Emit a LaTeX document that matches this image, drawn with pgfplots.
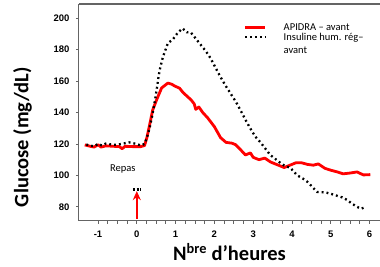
\documentclass[border=0pt]{standalone}
\usepackage{fontspec}
\usepackage{pgfplots}
\pgfplotsset{compat=1.18}
\usetikzlibrary{arrows.meta}
\setmainfont{Carlito}
\newfontfamily\tickfont{Liberation Sans}
\definecolor{axgray}{RGB}{100,100,100}
\definecolor{apired}{RGB}{255,0,0}
\begin{document}
\begin{tikzpicture}
\useasboundingbox (-79pt,-46pt) rectangle (301pt,221pt);
\begin{axis}[
  scale only axis,
  width=301pt, height=217pt,
  xmin=-1.49, xmax=6.27,
  ymin=71, ymax=209,
  axis x line*=bottom,
  axis y line*=left,
  axis line style={axgray, line width=1pt},
  every outer x axis line/.append style={-},
  every outer y axis line/.append style={-},
  xtick={-1,0,1,2,3,4,5,6},
  xticklabels={-1,0,1,2,3,4,5,6},
  minor x tick num=3,
  ytick={80,100,120,140,160,180,200},
  yticklabels={80,100,120,140,160,180,200},
  tick align=outside,
  major tick length=3pt,
  minor tick length=3pt,
  tick style={axgray, line width=0.8pt},
  ticklabel style={font=\tickfont\bfseries\fontsize{9.5}{11}\selectfont},
  xticklabel style={yshift=-3pt},
  yticklabel style={xshift=-3pt},
  xlabel={\bfseries N\textsuperscript{bre} d’heures},
  ylabel={\bfseries Glucose (mg/dL)},
  label style={font=\fontsize{20.5}{24}\selectfont},
  xlabel style={yshift=1pt},
  ylabel style={at={(axis description cs:-0.188,0.387)}, anchor=center, rotate=0},
  clip=false,
  legend style={draw=none, fill=none, at={(axis cs:2.68,198.5)}, anchor=north west,
    font=\fontsize{10.5}{13}\selectfont, row sep=-1pt, column sep=2pt,
    nodes={inner sep=1pt}},
  legend cell align=left,
  legend image code/.code={\draw[#1] (0pt,0pt) -- (20pt,0pt);},
  legend style={/tikz/every odd column/.append style={column sep=16pt}},
]
\addplot[apired, line width=2.8pt, line join=round] coordinates {
(-1.34,119.4) (-1.2,118.5) (-1.1,118) (-1.0,119.5) (-0.92,118) (-0.8,118.8)
(-0.6,118.5) (-0.45,118.3) (-0.38,117) (-0.3,118.5) (-0.1,118.3) (0.1,118.3)
(0.2,119) (0.26,124) (0.33,132) (0.41,141.6) (0.51,148) (0.64,155.6) (0.8,158.7)
(0.9,158) (0.98,156.8) (1.1,155.5) (1.2,152.5) (1.29,150.5) (1.4,148) (1.48,145.5)
(1.52,142) (1.6,143.5) (1.7,140) (1.83,136.5) (2.0,131) (2.16,124) (2.3,121)
(2.45,120.5) (2.55,119.5) (2.65,117) (2.8,113) (2.93,114.3) (3.0,111.5) (3.15,110)
(3.3,111) (3.45,108.5) (3.6,107) (3.8,105) (3.95,106.5) (4.1,108) (4.25,108)
(4.4,107) (4.55,106.5) (4.68,107.3) (4.85,104.5) (5.0,103.3) (5.17,102.2)
(5.32,101) (5.5,101.5) (5.68,102.2) (5.84,100.3) (6.02,100.5)
};
\addlegendentry{APIDRA – avant}
\addplot[black, line width=2.3pt, dash pattern=on 1.9pt off 3pt] coordinates {
(-1.3,119.6) (-1.2,119) (-1.1,118.5) (-1.0,120) (-0.9,119) (-0.8,120.2) (-0.7,119.8)
(-0.6,119.5) (-0.5,119.5) (-0.4,120) (-0.3,120.5) (-0.2,121) (-0.1,120.5) (0.0,120)
(0.1,119) (0.2,120) (0.26,124) (0.33,130) (0.39,137) (0.45,145) (0.51,154) (0.55,161)
(0.59,167) (0.67,175) (0.8,184) (0.93,186.5) (1.05,190.5) (1.18,193.5) (1.29,191)
(1.39,191) (1.52,187) (1.65,183) (1.78,179) (1.9,174.6) (2.03,168.5) (2.16,162.5)
(2.29,157) (2.42,152) (2.55,147) (2.67,141.6) (2.82,134.5) (2.98,127.6) (3.08,124)
(3.19,121) (3.3,117.5) (3.44,113) (3.57,110.5) (3.7,108) (3.82,106) (3.96,104.8)
(4.06,102) (4.16,99.7) (4.28,98) (4.4,95.9) (4.53,92.5) (4.65,89.5) (4.78,89.3)
(4.91,88.9) (5.04,88) (5.17,87) (5.3,86) (5.42,84.4) (5.55,82) (5.68,80)
(5.78,78.8) (5.91,80)
};
\addlegendentry{\parbox[t]{80pt}{Insuline hum. rég–\\avant}}
\draw[axgray, line width=1.5pt] (rel axis cs:0,1) -- (rel axis cs:1,1);
\node[font=\fontsize{10.5}{13}\selectfont] at (axis cs:-0.36,104) {Repas};
\draw[apired, line width=1.8pt, -{Stealth[length=9pt,width=8pt]}] (axis cs:0,72.5) -- (axis cs:0,90);
\draw[black, line width=2.2pt, dash pattern=on 2pt off 1.6pt] (axis cs:-0.1,91) -- (axis cs:0.11,91);
\end{axis}
\end{tikzpicture}
\end{document}
